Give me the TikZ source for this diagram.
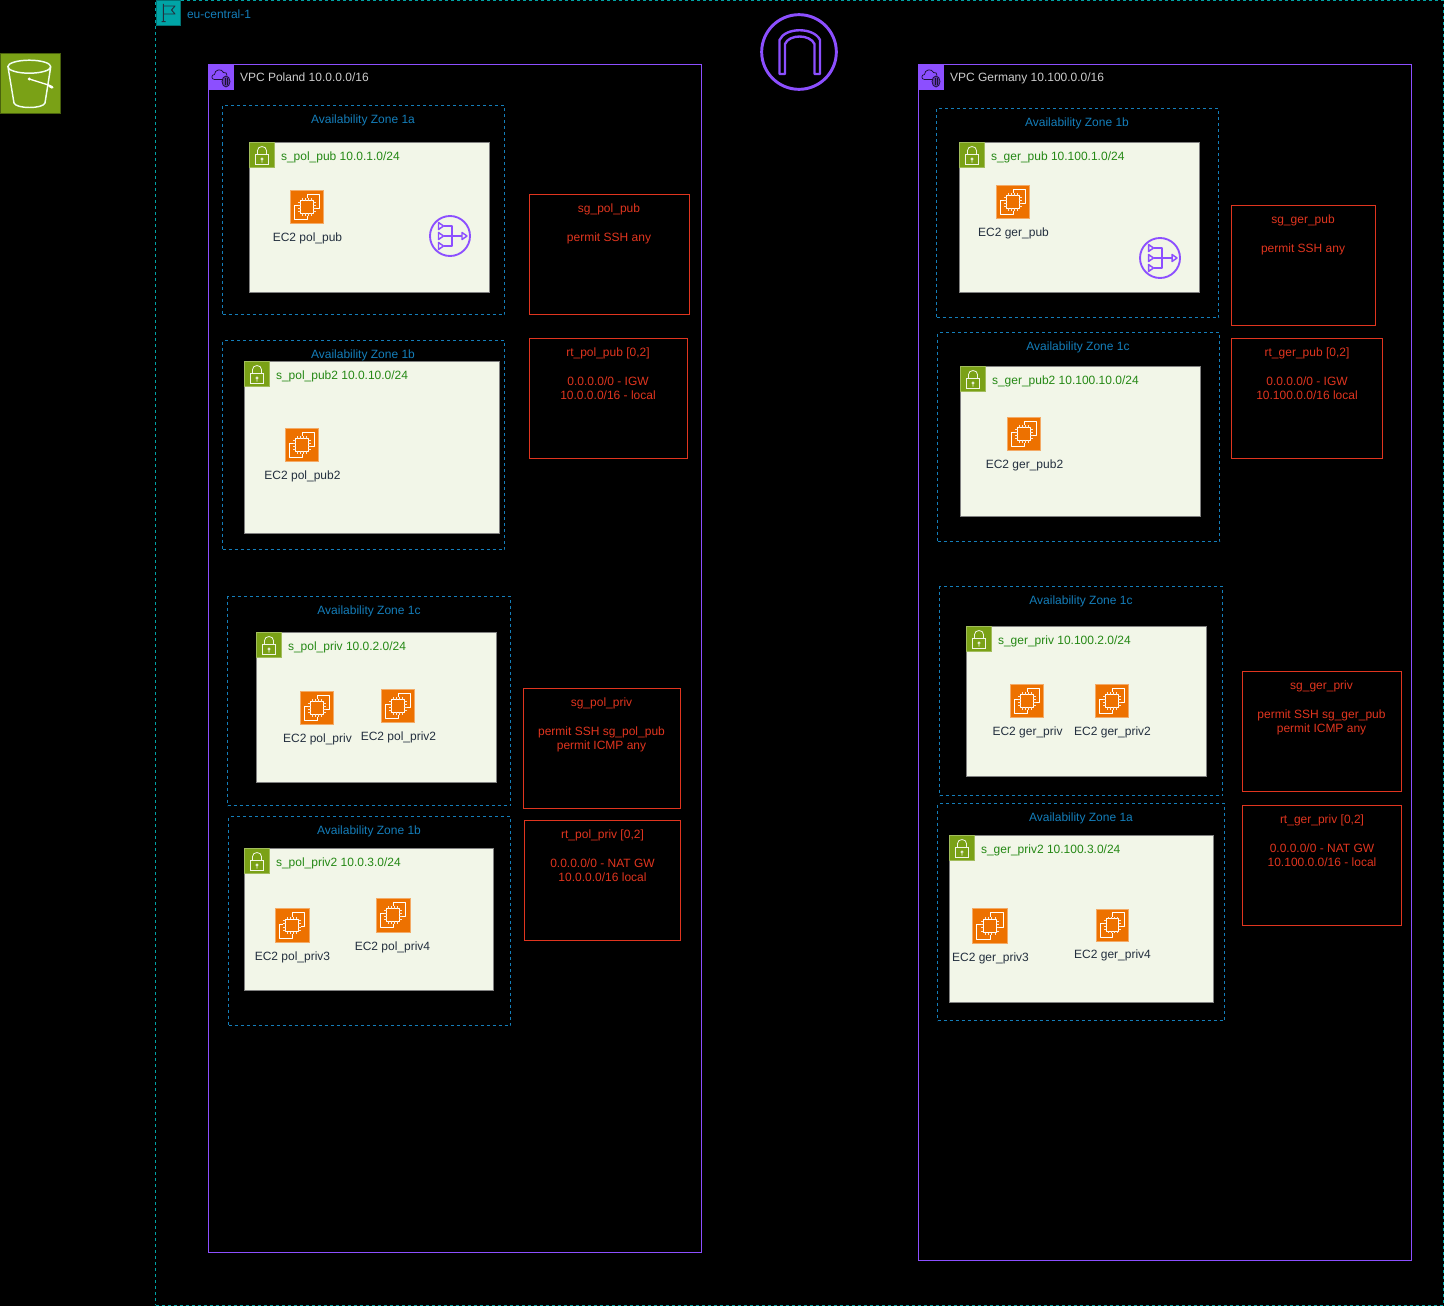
\documentclass[tikz,border=0pt]{standalone}
\usepackage{fontspec}
\setmainfont{Liberation Sans}
\definecolor{regionc}{HTML}{00A4A6}
\definecolor{azc}{HTML}{147EBA}
\definecolor{vpcc}{HTML}{8C4FFF}
\definecolor{greenc}{HTML}{7AA116}
\definecolor{subfill}{HTML}{F2F6E8}
\definecolor{subtext}{HTML}{248814}
\definecolor{orangec}{HTML}{ED7100}
\definecolor{redc}{HTML}{E0351F}
\definecolor{darkc}{HTML}{232F3E}
\tikzset{
  lbl/.style={inner sep=0pt,outer sep=0pt,font=\fontsize{9}{10.8}\selectfont,text height=6.6pt,text depth=1.9pt},
  regionbox/.style={draw=regionc,line width=.75pt,dash pattern=on 2.25pt off 2.25pt},
  vpcbox/.style={draw=vpcc,line width=.75pt},
  azbox/.style={draw=azc,line width=.75pt,dash pattern=on 2.25pt off 2.25pt},
  subbox/.style={draw=gray,fill=subfill,line width=.75pt},
  redbox/.style={draw=redc,line width=.75pt},
  icoline/.style={draw=white,line width=.75pt,line join=round},
  purpleline/.style={draw=vpcc,line width=1.3pt,line join=round}
}
\newcommand\boxnode[6]{\node[#2,inner sep=0pt,outer sep=0pt,minimum width={((#5)-(#3))*0.75pt},minimum height={((#6)-(#4))*0.75pt}] (#1) at ({((#3)+(#5))/2},{((#4)+(#6))/2}) {};}
\newcommand\azone[7]{\boxnode{#1}{azbox}{#2}{#3}{#4}{#5}\node[lbl,text=azc] (#1t) at (#6,#3+15.2) {#7};}
\newcommand\subnet[6]{\boxnode{#1}{subbox}{#2}{#3}{#4}{#5}
  \boxnode{#1tag}{fill=greenc,draw=greenc!70!white,line width=.5pt}{#2}{#3}{#2+25}{#3+25}
  \begin{scope}[shift={(#2,#3)}]
    \draw[draw=subfill,line width=.6pt] (6,12) rectangle (19,22);
    \draw[draw=subfill,line width=.6pt] (8,12) -- (8,8) arc[start angle=180,end angle=360,x radius=4.5,y radius=4] -- (17,12);
    \draw[draw=subfill,line width=.5pt] (12.5,16.5) circle[radius=1.2] (12.5,17.7) -- (12.5,20);
  \end{scope}
  \node[lbl,text=subtext,anchor=west] (#1t) at (#2+31.5,#3+15.2) {#6};}
\newcommand\ectwo[7]{%
  \boxnode{#1}{fill=orangec,draw=orangec!60!white,line width=.6pt}{#2-#4/2}{#3-#4/2}{#2+#4/2}{#3+#4/2}
  \begin{scope}[shift={(#2,#3)},x={#4*0.75pt/100},y={-#4*0.75pt/100}]
    \draw[icoline] (-19,-19) rectangle (19,19);
    \foreach \k in {-14,-5,5,14}{
      \draw[draw=white!85!orangec,line width=.6pt] (\k,19) -- (\k,26) (\k,-19) -- (\k,-26) (19,\k) -- (26,\k) (-19,\k) -- (-26,\k);}
    \draw[icoline] (0,26) -- (0,38) -- (-38,38) -- (-38,-4) -- (-26,-4);
    \draw[icoline] (26,4) -- (38,4) -- (38,-38) -- (0,-38) -- (0,-26);
  \end{scope}
  \node[lbl,text=darkc] (#1t) at (#6,#7+0.8) {#5};}
\newcommand\natgw[3]{%
  \node[circle,draw=vpcc,line width=1.4pt,minimum size=30pt,inner sep=0pt,outer sep=0pt] (#1) at (#2,#3) {};
  \begin{scope}[shift={(#2,#3)}]
    \foreach \k in {-10,0,10}{
      \draw[purpleline,line width=1.1pt] (-11.5,\k-3.5) -- (-6.5,\k) -- (-11.5,\k+3.5) -- cycle;}
    \draw[purpleline,line width=1.3pt] (-6.5,-10) -- (2,-10) -- (2,10) -- (-6.5,10) (-6.5,0) -- (12,0);
    \draw[purpleline,line width=1.1pt] (12,-3.5) -- (17,0) -- (12,3.5) -- cycle;
  \end{scope}}
\newcommand\vpctag[3]{%
  \boxnode{#1}{fill=vpcc,draw=vpcc,line width=.5pt}{#2}{#3}{#2+25}{#3+25}
  \begin{scope}[shift={(#2,#3)}]
    \draw[draw=black!80!vpcc,line width=.55pt,line join=round]
      (15,15) -- (6,15) .. controls (2.5,15) and (2.5,10) .. (6,10) .. controls (6,5) and (13,3.5) .. (15,8) .. controls (17,7.5) and (19,9) .. (18.5,11);
    \draw[draw=black!80!vpcc,fill=vpcc!70!black,line width=.55pt] (17.5,17) ellipse[x radius=4,y radius=5.5];
    \draw[draw=black!80!vpcc,line width=.45pt] (16.3,13.5) -- (16.3,20.5) (18.7,13.5) -- (18.7,20.5);
  \end{scope}}
\newcommand\rules[9]{%
  \boxnode{#1}{redbox}{#2}{#3}{#4}{#5}
  \node[lbl,text=redc,anchor=north,align=center,text height=,text depth=] (#1t) at (#6,#7-4.4) {#8\\[0pt]\mbox{}\\[0pt]#9};}
\begin{document}
\begin{tikzpicture}[x=0.75pt,y=-0.75pt]
\fill[black] (0,0) rectangle (1444,1306);
\useasboundingbox (0,0) rectangle (1444,1306);
% bucket
\boxnode{s3}{fill=greenc,draw=greenc!60!black,line width=.75pt}{0.5}{53.5}{60.5}{113.5}
\draw[draw=white!95!green,line width=1.1pt,line join=round]
  (29.3,66.7) ellipse[x radius=21.5,y radius=6.5]
  (8,67) -- (14,103) .. controls (16,109) and (43,109) .. (45,103) -- (50.7,67);
\draw[draw=white,line width=1pt] (29.3,79) -- (50,85.5) .. controls (54,87) and (53,89) .. (50,87) -- (47,84);
\fill[white] (29.3,79) circle[radius=1.6];
% region
\boxnode{region}{regionbox}{155.5}{0.5}{1443.5}{1305}
\boxnode{flagtag}{fill=regionc,draw=regionc!70!black,line width=.5pt}{156}{0.5}{180.5}{25}
\draw[draw=darkc,line width=.7pt,line join=round] (163.3,4) -- (163.3,21.7) (161.5,21.7) -- (165.5,21.7)
  (163.3,6) -- (175,6) -- (171.5,10) -- (175,14) -- (163.3,14);
\node[lbl,text=azc,anchor=west] (regiont) at (187,15.7) {eu-central-1};
% igw
\node[circle,draw=vpcc,line width=2.2pt,minimum size=56pt,inner sep=0pt,outer sep=0pt] (igw) at (799,52) {};
\draw[draw=vpcc,line width=1.8pt,line join=round] (779.5,74) -- (779.5,40) .. controls (785,27) and (814,27) .. (820,40) -- (820,74) -- (814.5,74) -- (814.5,44) .. controls (810,34) and (789,34) .. (785,44) -- (785,74) -- cycle;
% vpcs
\boxnode{vpcp}{vpcbox}{208.5}{64.5}{701.5}{1252.5}
\vpctag{vpcptag}{208.5}{64.5}
\node[lbl,text=black!20!white,anchor=west] (vpcpt) at (240,78.2) {VPC Poland 10.0.0.0/16};
\boxnode{vpcg}{vpcbox}{918.5}{64.5}{1411.5}{1260.5}
\vpctag{vpcgtag}{918.5}{64.5}
\node[lbl,text=black!20!white,anchor=west] (vpcgt) at (950,78.2) {VPC Germany 10.100.0.0/16};
% availability zones
\azone{azpa}{222.5}{105.5}{504.5}{314.5}{363}{Availability Zone 1a}
\azone{azpb}{222.5}{340.5}{504.5}{549.5}{363}{Availability Zone 1b}
\azone{azpc}{227.5}{596.5}{510.5}{805.5}{369}{Availability Zone 1c}
\azone{azpd}{228.5}{816.5}{510.5}{1025.5}{369}{Availability Zone 1b}
\azone{azga}{936.5}{108.5}{1218.5}{317.5}{1077}{Availability Zone 1b}
\azone{azgb}{937.5}{332.5}{1219.5}{541.5}{1078}{Availability Zone 1c}
\azone{azgc}{939.5}{586.5}{1222.5}{795.5}{1081}{Availability Zone 1c}
\azone{azgd}{937.5}{803.5}{1224.5}{1020.5}{1081}{Availability Zone 1a}
% subnets
\subnet{spa}{249.5}{142.5}{489.5}{292.5}{s\_pol\_pub 10.0.1.0/24}
\subnet{spb}{244.5}{361.5}{499.5}{533.5}{s\_pol\_pub2 10.0.10.0/24}
\subnet{spc}{256.5}{632.5}{496.5}{782.5}{s\_pol\_priv 10.0.2.0/24}
\subnet{spd}{244.5}{848.5}{493.5}{990.5}{s\_pol\_priv2 10.0.3.0/24}
\subnet{sga}{959.5}{142.5}{1199.5}{292.5}{s\_ger\_pub 10.100.1.0/24}
\subnet{sgb}{960.5}{366.5}{1200.5}{516.5}{s\_ger\_pub2 10.100.10.0/24}
\subnet{sgc}{966.5}{626.5}{1206.5}{776.5}{s\_ger\_priv 10.100.2.0/24}
\subnet{sgd}{949.5}{835.5}{1213.5}{1002.5}{s\_ger\_priv2 10.100.3.0/24}
% instances
\ectwo{epa}{307}{207}{33}{EC2 pol\_pub}{307.5}{237.5}
\ectwo{epb}{302}{445}{33}{EC2 pol\_pub2}{302.5}{475.5}
\ectwo{epc}{317}{708}{33}{EC2 pol\_priv}{317.5}{738.5}
\ectwo{epd}{398}{706}{33}{EC2 pol\_priv2}{398.5}{736.5}
\ectwo{epe}{292}{925.5}{34}{EC2 pol\_priv3}{292.5}{956.5}
\ectwo{epf}{393}{915}{34}{EC2 pol\_priv4}{392.5}{946.5}
\ectwo{ega}{1013}{202}{33}{EC2 ger\_pub}{1013.5}{232.5}
\ectwo{egb}{1024}{434}{33}{EC2 ger\_pub2}{1024.5}{464.5}
\ectwo{egc}{1027}{701}{33}{EC2 ger\_priv}{1027.5}{731.5}
\ectwo{egd}{1112}{701}{33}{EC2 ger\_priv2}{1112.5}{731.5}
\ectwo{ege}{990}{926}{35}{EC2 ger\_priv3}{990.5}{957.5}
\ectwo{egf}{1112.5}{925}{32}{EC2 ger\_priv4}{1112.5}{954.5}
% nat gateways
\natgw{natp}{450}{236}
\natgw{natg}{1160}{258}
% rule boxes
\rules{rpa}{529.5}{194.5}{689.5}{314.5}{609}{208}{sg\_pol\_pub}{permit SSH any}
\rules{rpb}{529.5}{338.5}{687.5}{458.5}{608}{352}{rt\_pol\_pub [0,2]}{0.0.0.0/0 - IGW\\10.0.0.0/16 - local}
\rules{rpc}{523.5}{688.5}{680.5}{808.5}{601.5}{702}{sg\_pol\_priv}{permit SSH sg\_pol\_pub\\permit ICMP any}
\rules{rpd}{524.5}{820.5}{680.5}{940.5}{602.5}{834}{rt\_pol\_priv [0,2]}{0.0.0.0/0 - NAT GW\\10.0.0.0/16 local}
\rules{rga}{1231.5}{205.5}{1375.5}{325.5}{1303}{219}{sg\_ger\_pub}{permit SSH any}
\rules{rgb}{1231.5}{338.5}{1382.5}{458.5}{1307}{352}{rt\_ger\_pub [0,2]}{0.0.0.0/0 - IGW\\10.100.0.0/16 local}
\rules{rgc}{1242.5}{671.5}{1401.5}{791.5}{1321.5}{685}{sg\_ger\_priv}{permit SSH sg\_ger\_pub\\permit ICMP any}
\rules{rgd}{1242.5}{805.5}{1401.5}{925.5}{1322}{819}{rt\_ger\_priv [0,2]}{0.0.0.0/0 - NAT GW\\10.100.0.0/16 - local}
\end{tikzpicture}
\end{document}
